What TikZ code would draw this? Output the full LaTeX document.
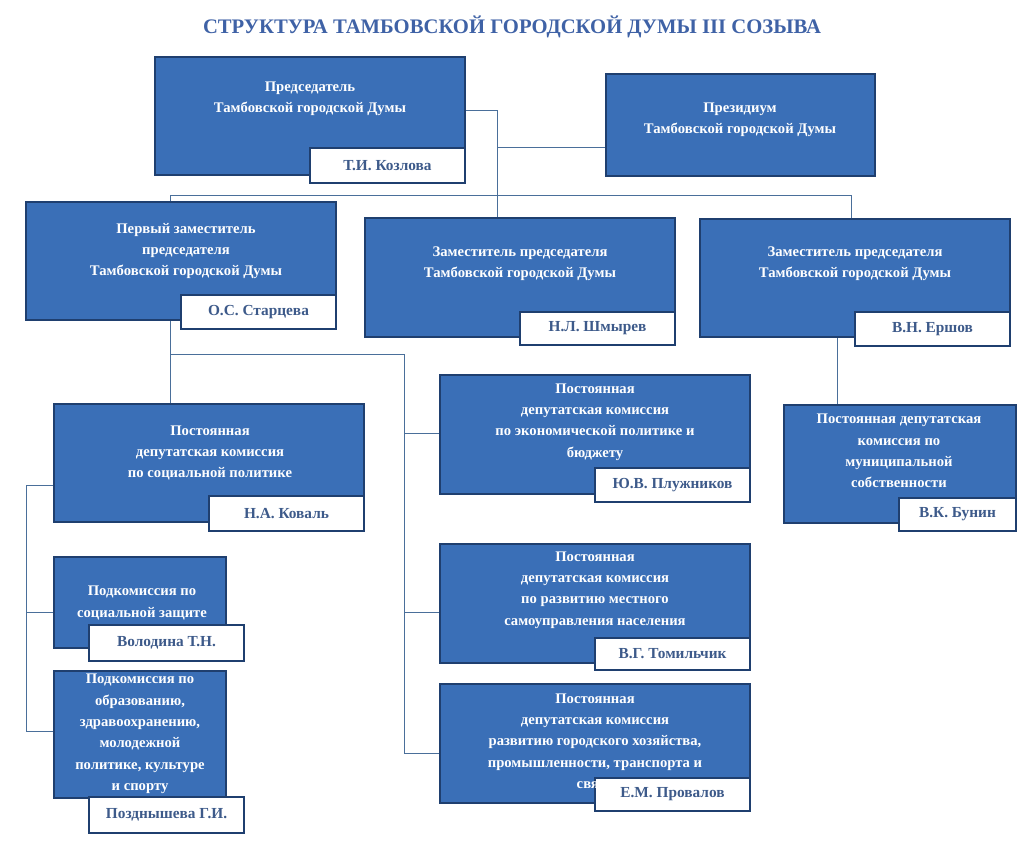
\documentclass[tikz,border=0pt]{standalone}
\usepackage{fontspec}
\setmainfont{Liberation Serif}
\definecolor{boxblue}{HTML}{3A6FB7}
\definecolor{boxedge}{HTML}{1F3F6F}
\definecolor{nametxt}{HTML}{3D5A8A}
\definecolor{titletxt}{HTML}{3F62A6}
\definecolor{linec}{HTML}{4A6F9A}
\begin{document}
\begin{tikzpicture}[x=0.75pt,y=-0.75pt,
  bluebox/.style={draw=boxedge,fill=boxblue,line width=0.8pt},
  namebox/.style={draw=boxedge,fill=white,line width=0.8pt},
  txt/.style={text=white,font=\bfseries\fontsize{11}{16}\selectfont,align=center},
  nm/.style={text=nametxt,font=\bfseries\fontsize{11.5}{14}\selectfont},
  conn/.style={draw=linec,line width=0.7pt}]
\useasboundingbox (0,0) rectangle (1035,850);
\node[text=titletxt,font=\bfseries\fontsize{15.5}{18}\selectfont] (title) at (512,27) {СТРУКТУРА ТАМБОВСКОЙ ГОРОДСКОЙ ДУМЫ III СОЗЫВА};
% connectors
\coordinate (j1) at (497,110);
\coordinate (j2) at (497,147);
\coordinate (hl) at (170,195);
\coordinate (hr) at (851,195);
\coordinate (v1) at (170,354);
\coordinate (v2) at (404,354);
\coordinate (v3) at (404,753);
\coordinate (s1) at (26,485);
\coordinate (s2) at (26,731);
\draw[conn] (465,110) -- (j1) -- (497,218);
\draw[conn] (j2) -- (606,147);
\draw[conn] (170,202) -- (hl) -- (hr) -- (851,219);
\draw[conn] (837,337) -- (837,405);
\draw[conn] (170,320) -- (170,404);
\draw[conn] (v1) -- (v2) -- (v3) -- (440,753);
\draw[conn] (404,433) -- (440,433);
\draw[conn] (404,612) -- (440,612);
\draw[conn] (54,485) -- (s1) -- (s2) -- (54,731);
\draw[conn] (26,612) -- (54,612);
% boxes
\newcommand{\bx}[5]{\path[bluebox] (#1,#2) rectangle (#3,#4); \node[inner sep=0,minimum width=0,minimum height=0] (#5) at ({(#1+#3)/2},{(#2+#4)/2}) {};}
\newcommand{\nb}[6]{\path[namebox] (#1,#2) rectangle (#3,#4); \node[nm] (#5) at ({(#1+#3)/2},{(#2+#4)/2}) {#6};}
\bx{155}{57}{465}{175}{chair}
\nb{310}{148}{465}{183}{chairn}{Т.И. Козлова}
\bx{606}{74}{875}{176}{pres}
\bx{26}{202}{336}{320}{fd}
\nb{181}{295}{336}{329}{fdn}{О.С. Старцева}
\bx{365}{218}{675}{337}{d2}
\nb{520}{312}{675}{345}{d2n}{Н.Л. Шмырев}
\bx{700}{219}{1010}{337}{d3}
\nb{855}{312}{1010}{346}{d3n}{В.Н. Ершов}
\bx{54}{404}{364}{522}{soc}
\nb{209}{496}{364}{531}{socn}{Н.А. Коваль}
\bx{440}{375}{750}{494}{eco}
\nb{595}{468}{750}{502}{econ}{Ю.В. Плужников}
\bx{784}{405}{1016}{523}{mun}
\nb{899}{498}{1016}{531}{munn}{В.К. Бунин}
\bx{54}{557}{226}{648}{sub1}
\nb{89}{625}{244}{661}{sub1n}{Володина Т.Н.}
\bx{54}{671}{226}{798}{sub2}
\nb{89}{797}{244}{833}{sub2n}{Позднышева Г.И.}
\bx{440}{544}{750}{663}{loc}
\nb{595}{638}{750}{670}{locn}{В.Г. Томильчик}
\bx{440}{684}{750}{803}{city}
\nb{595}{778}{750}{811}{cityn}{Е.М. Провалов}
% texts
\node[txt] (t1) at (310,99) {Председатель\\Тамбовской городской Думы};
\node[txt] (t2) at (740,120) {Президиум\\Тамбовской городской Думы};
\node[txt] (t3) at (186,251) {Первый заместитель\\председателя\\Тамбовской городской Думы};
\node[txt] (t4) at (520,264) {Заместитель председателя\\Тамбовской городской Думы};
\node[txt] (t5) at (855,264) {Заместитель председателя\\Тамбовской городской Думы};
\node[txt] (t6) at (210,453) {Постоянная\\депутатская комиссия\\по социальной политике};
\node[txt] (t7) at (595,422) {Постоянная\\депутатская комиссия\\по экономической политике и\\бюджету};
\node[txt] (t8) at (899,451) {Постоянная депутатская\\комиссия по\\муниципальной\\собственности};
\node[txt] (t9) at (142,603) {Подкомиссия по\\социальной защите};
\node[txt] (t10) at (140,734) {Подкомиссия по\\образованию,\\здравоохранению,\\молодежной\\политике, культуре\\и спорту};
\node[txt] (t11) at (595,590) {Постоянная\\депутатская комиссия\\по развитию местного\\самоуправления населения};
\node[txt] (t12) at (595,741) {Постоянная\\депутатская комиссия\\развитию городского хозяйства,\\промышленности, транспорта и\\связи};
\end{tikzpicture}
\end{document}
